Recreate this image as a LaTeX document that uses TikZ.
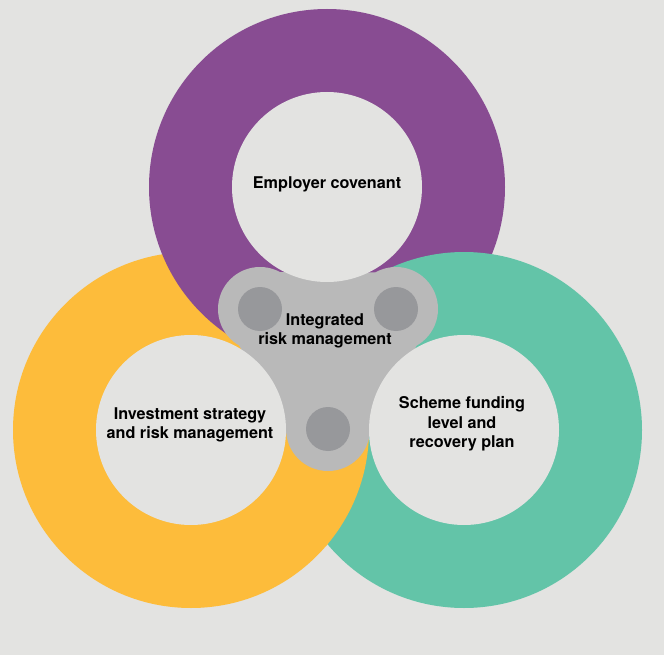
\documentclass[tikz,border=0pt]{standalone}
\usepackage{fontspec}
\setmainfont{TeX Gyre Heros}
\usetikzlibrary{calc}
\definecolor{bg}{HTML}{E3E3E1}
\definecolor{purp}{HTML}{884C92}
\definecolor{yel}{HTML}{FDBC3B}
\definecolor{grn}{HTML}{63C4A8}
\definecolor{tref}{HTML}{B9B9B9}
\definecolor{dotc}{HTML}{97989B}
\begin{document}
\begin{tikzpicture}[x=1pt,y=-1pt,
  lbl/.style={font=\bfseries\fontsize{16.2}{19.6}\selectfont, align=center, text=black, inner sep=0pt},
  ringR/.style={radius=178pt},
  holeR/.style={radius=95pt}]
\fill[bg] (0,0) rectangle (664,655);
\useasboundingbox (0,0) rectangle (664,655);
\coordinate (P) at (327,187);
\coordinate (Y) at (191,430);
\coordinate (G) at (464,430);
% rings (cyclic overlap: purple over yellow, yellow over green, green over purple)
\fill[yel] (Y) circle[ringR];
\fill[purp] (P) circle[ringR];
\fill[grn] (G) circle[ringR];
\begin{scope}
  \clip (G) circle[radius=180pt];
  \fill[yel] (Y) circle[ringR];
\end{scope}
% trefoil
\coordinate (L) at (260,309);
\coordinate (Rt) at (396,309);
\coordinate (B) at (328,429);
\fill[tref] (L) -- ($(L)!42pt!(Y)$) -- ($(B)!42pt!(Y)$) -- (B)
  -- ($(B)!42pt!(G)$) -- ($(Rt)!42pt!(G)$) -- (Rt)
  -- ($(Rt)!42pt!(P)$) -- ($(L)!42pt!(P)$) -- cycle;
\fill[tref] (L) circle[radius=42pt] (Rt) circle[radius=42pt] (B) circle[radius=42pt];
% holes
\fill[bg] (P) circle[holeR];
\fill[bg] (Y) circle[holeR];
\fill[bg] (G) circle[holeR];
% dots
\fill[dotc] (L) circle[radius=22pt] (Rt) circle[radius=22pt] (B) circle[radius=22pt];
% labels
\node[lbl] (emp) at (327,184) {Employer covenant};
\node[lbl] (irm) at (325,331) {Integrated\\risk management};
\node[lbl] (inv) at (190,425) {Investment strategy\\and risk management};
\node[lbl] (sch) at (462,424) {Scheme funding\\level and\\recovery plan};
\end{tikzpicture}
\end{document}
